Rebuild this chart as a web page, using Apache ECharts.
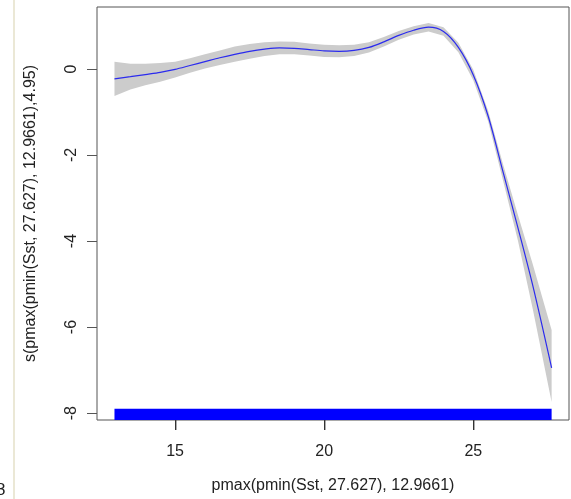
<!DOCTYPE html>
<html>
<head>
<meta charset="utf-8">
<script src="https://cdn.jsdelivr.net/npm/echarts@6/dist/echarts.min.js"></script>
<style>
  html, body { margin: 0; padding: 0; background: #fff; }
  #main { width: 571px; height: 499px; }
</style>
</head>
<body>
<div id="main"></div>
<script>
// smooth term: x values, fitted curve and the shaded band
var sst = [12.9661, 13.5, 14, 14.5, 15, 15.5, 16, 16.5, 17, 17.5, 18, 18.5, 19, 19.5, 20,
    20.5, 21, 21.5, 22, 22.5, 23, 23.5, 24, 24.5, 25, 25.5, 26, 26.5, 27, 27.627];
var fit = [-0.23, -0.18, -0.13, -0.08, -0.01, 0.08, 0.17, 0.26, 0.34, 0.41, 0.46, 0.49, 0.48, 0.45, 0.42,
    0.41, 0.43, 0.50, 0.63, 0.78, 0.90, 0.97, 0.87, 0.50, -0.14, -1.10, -2.40, -3.70, -5.05, -6.95];
var bandHi = [0.17, 0.12, 0.12, 0.14, 0.17, 0.25, 0.34, 0.43, 0.52, 0.58, 0.62, 0.64, 0.63, 0.59, 0.56,
    0.55, 0.56, 0.62, 0.74, 0.88, 0.99, 1.07, 0.97, 0.61, -0.02, -0.98, -2.22, -3.40, -4.55, -6.07];
var bandLo = [-0.63, -0.48, -0.38, -0.30, -0.20, -0.09, 0.01, 0.09, 0.17, 0.24, 0.30, 0.34, 0.34, 0.31, 0.28,
    0.27, 0.30, 0.38, 0.52, 0.68, 0.80, 0.87, 0.77, 0.39, -0.26, -1.22, -2.60, -4.00, -5.60, -7.74];

// rug (dense, shows as one bar)
var rugRange = [12.9661, 27.627];
var rugTop = -7.9;

var xTicks = [15, 20, 25];
var yTicks = [-8, -6, -4, -2, 0];
var xMin = 12.38, xMax = 28.21;
var yMin = -8.16, yMax = 1.44;

var font = 'Liberation Sans, Arial, sans-serif';
var chart = echarts.init(document.getElementById('main'));

var option = {
    backgroundColor: '#fff',
    animation: false,
    grid: {
        left: 97, right: 2, top: 7, bottom: 79,
        show: true, borderColor: '#555', borderWidth: 1
    },
    xAxis: {
        type: 'value', min: xMin, max: xMax,
        axisLine: { show: false, onZero: false },
        axisTick: { show: false },
        axisLabel: { customValues: xTicks, margin: 24, fontSize: 16, color: '#222', fontFamily: font },
        splitLine: { show: false },
        name: 'pmax(pmin(Sst, 27.627), 12.9661)',
        nameLocation: 'middle', nameGap: 58,
        nameTextStyle: { fontSize: 16, color: '#222', fontFamily: font }
    },
    yAxis: {
        type: 'value', min: yMin, max: yMax,
        axisLine: { show: false, onZero: false },
        axisTick: { show: true, length: 10, customValues: yTicks, lineStyle: { color: '#555' } },
        axisLabel: { customValues: yTicks, rotate: 90, margin: 17, fontSize: 16, color: '#222', fontFamily: font },
        splitLine: { show: false },
        name: 's(pmax(pmin(Sst, 27.627), 12.9661),4.95)',
        nameLocation: 'middle', nameGap: 58, nameRotate: 90,
        nameTextStyle: { fontSize: 16, color: '#222', fontFamily: font }
    },
    series: [
        {
            // confidence band
            type: 'custom',
            silent: true,
            z: 1,
            data: [[sst[0], fit[0]]],
            renderItem: function (params, api) {
                var pts = [];
                for (var i = 0; i < sst.length; i++) {
                    pts.push(api.coord([sst[i], bandHi[i]]));
                }
                for (var j = sst.length - 1; j >= 0; j--) {
                    pts.push(api.coord([sst[j], bandLo[j]]));
                }
                return { type: 'polygon', shape: { points: pts }, style: { fill: '#cccccc' } };
            }
        },
        {
            type: 'line',
            z: 3,
            data: sst.map(function (x, i) { return [x, fit[i]]; }),
            smooth: 0.3,
            symbol: 'none',
            lineStyle: { color: '#2b2bee', width: 1.2 }
        },
        {
            // rug
            type: 'custom',
            silent: true,
            z: 2,
            data: [[rugRange[0], rugTop]],
            renderItem: function (params, api) {
                var p0 = api.coord([rugRange[0], rugTop]);
                var p1 = api.coord([rugRange[1], yMin]);
                return {
                    type: 'rect',
                    shape: { x: p0[0], y: p0[1], width: p1[0] - p0[0], height: p1[1] - p0[1] },
                    style: { fill: '#0000ff' }
                };
            }
        }
    ]
};

chart.setOption(option);

// x tick marks under the frame, placed with the axis scale
var extras = [
    { type: 'line', shape: { x1: 14, y1: 0, x2: 14, y2: 499 }, style: { stroke: '#ebe8d6', lineWidth: 2 } },
    { type: 'text', left: -4, top: 482, style: { text: '8', fontSize: 17, fill: '#222', fontFamily: font } }
];
xTicks.forEach(function (v) {
    var p = chart.convertToPixel({ xAxisIndex: 0, yAxisIndex: 0 }, [v, yMin]);
    extras.push({
        type: 'rect', z: 100,
        x: 0, y: 0,
        shape: { x: Math.round(p[0]), y: p[1], width: 1.4, height: 10 },
        style: { fill: '#333' }
    });
});
chart.setOption({ graphic: extras });
</script>
</body>
</html>
